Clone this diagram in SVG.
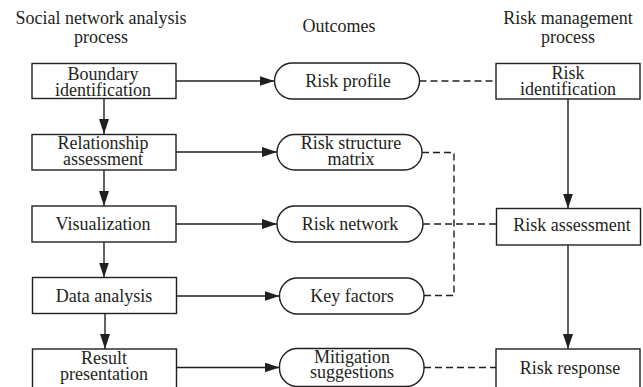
<svg xmlns="http://www.w3.org/2000/svg" width="643" height="387" viewBox="0 0 643 387">
<defs>
<style>
text{font-family:"Liberation Serif","Times New Roman",serif;font-size:18px;fill:#231f20;text-anchor:middle}
.box{fill:#fff;stroke:#231f20;stroke-width:1.4}
.c{fill:none;stroke:#231f20;stroke-width:1.4}
.d{fill:none;stroke:#231f20;stroke-width:1.4;stroke-dasharray:7 4}
</style>
<marker id="ah" viewBox="0 0 15 10" refX="15" refY="5" markerWidth="15" markerHeight="10" markerUnits="userSpaceOnUse" orient="auto">
<path d="M0,0 L15,5 L0,10 Z" fill="#231f20"/>
</marker>
</defs>
<rect width="643" height="387" fill="#fff"/>
<g id="headers">
<text x="101" y="24">Social network analysis</text>
<text x="101" y="43">process</text>
<text x="339" y="32">Outcomes</text>
<text x="568" y="24">Risk management</text>
<text x="568" y="43">process</text>
</g>
<g id="connectors">
<line class="c" x1="104" y1="98.5" x2="104" y2="134" marker-end="url(#ah)"/>
<line class="c" x1="104" y1="170" x2="104" y2="206" marker-end="url(#ah)"/>
<line class="c" x1="104" y1="242" x2="104" y2="277.5" marker-end="url(#ah)"/>
<line class="c" x1="105" y1="313.5" x2="105" y2="349" marker-end="url(#ah)"/>
<line class="c" x1="176" y1="81" x2="274.5" y2="81" marker-end="url(#ah)"/>
<line class="c" x1="176" y1="152" x2="277" y2="152" marker-end="url(#ah)"/>
<line class="c" x1="176" y1="224" x2="277" y2="224" marker-end="url(#ah)"/>
<line class="c" x1="176" y1="296" x2="279.5" y2="296" marker-end="url(#ah)"/>
<line class="c" x1="176" y1="367.5" x2="279.5" y2="367.5" marker-end="url(#ah)"/>
<line class="c" x1="568" y1="99" x2="568" y2="208.5" marker-end="url(#ah)"/>
<line class="c" x1="568" y1="245" x2="568" y2="349" marker-end="url(#ah)"/>
<line class="d" x1="419.5" y1="81" x2="496" y2="81"/>
<polyline class="d" points="422,152.5 454,152.5 454,295.5 424,295.5"/>
<line class="d" x1="423" y1="224" x2="496.5" y2="224"/>
<line class="d" x1="424" y1="367.5" x2="496" y2="367.5"/>
</g>
<g id="boundary-identification">
<rect class="box" x="32" y="63.5" width="144" height="35"/>
<text x="103" y="79.5">Boundary</text>
<text x="103" y="95.5">identification</text>
</g>
<g id="relationship-assessment">
<rect class="box" x="32" y="134.5" width="144" height="35.5"/>
<text x="103" y="149">Relationship</text>
<text x="103" y="165">assessment</text>
</g>
<g id="visualization">
<rect class="box" x="32" y="206" width="144" height="36"/>
<text x="103" y="229.5">Visualization</text>
</g>
<g id="data-analysis">
<rect class="box" x="32.5" y="277.5" width="144" height="36"/>
<text x="104" y="301.5">Data analysis</text>
</g>
<g id="result-presentation">
<rect class="box" x="32.5" y="349" width="144" height="40"/>
<text x="104" y="364">Result</text>
<text x="104" y="380">presentation</text>
</g>
<g id="risk-profile">
<rect class="box" x="274.5" y="63" width="145" height="36" rx="18"/>
<text x="348" y="87">Risk profile</text>
</g>
<g id="risk-structure-matrix">
<rect class="box" x="277" y="134.5" width="145" height="35.5" rx="17.75"/>
<text x="351" y="148.5">Risk structure</text>
<text x="351" y="165">matrix</text>
</g>
<g id="risk-network">
<rect class="box" x="277" y="206" width="146" height="36" rx="18"/>
<text x="350" y="229.5">Risk network</text>
</g>
<g id="key-factors">
<rect class="box" x="279.5" y="278" width="144.5" height="36" rx="18"/>
<text x="352" y="301.5">Key factors</text>
</g>
<g id="mitigation-suggestions">
<rect class="box" x="279.5" y="348.5" width="144.5" height="38" rx="18"/>
<text x="352" y="362.5">Mitigation</text>
<text x="352" y="378">suggestions</text>
</g>
<g id="risk-identification">
<rect class="box" x="496" y="63.5" width="144" height="35.5"/>
<text x="568" y="79">Risk</text>
<text x="568" y="95">identification</text>
</g>
<g id="risk-assessment">
<rect class="box" x="496.5" y="208.5" width="144" height="36.5"/>
<text x="572" y="231">Risk assessment</text>
</g>
<g id="risk-response">
<rect class="box" x="496" y="349" width="144" height="40"/>
<text x="570" y="374">Risk response</text>
</g>
</svg>
